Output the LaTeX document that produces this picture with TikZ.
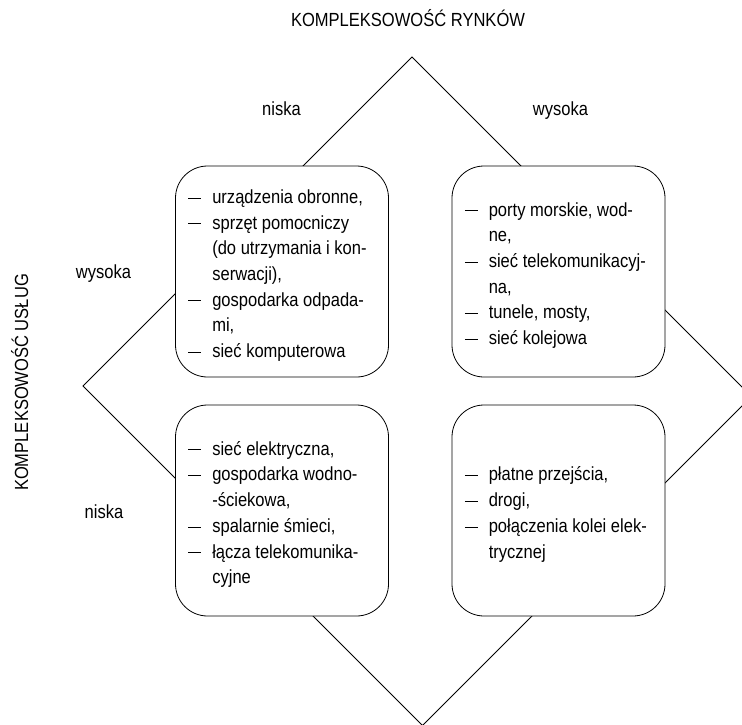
\documentclass[tikz,border=0pt]{standalone}
\usepackage{fontspec}
\setmainfont{Liberation Sans}[FakeStretch=0.87]
\newcommand{\qitem}{\makebox[24pt][l]{\rule[5pt]{13pt}{0.8pt}}}
\newcommand{\qind}{\hspace*{24pt}}
\begin{document}
\begin{tikzpicture}[x=1pt,y=-1pt,
  qbox/.style={draw,line width=0.8pt,rounded corners=32pt,fill=white,minimum width=213pt,minimum height=211pt,inner sep=0pt},
  qtext/.style={anchor=west,align=left,inner sep=0pt,font=\fontsize{19}{25.7}\selectfont,yshift=-4pt},
  lbl/.style={font=\fontsize{19}{23}\selectfont,inner sep=0pt,anchor=base},
  diamond edge/.style={line width=0.8pt}]
\clip (0,0) rectangle (742,725);
\coordinate (T) at (412,57);
\coordinate (R) at (751.5,396.5);
\coordinate (B) at (422.5,725.5);
\coordinate (L) at (83,386);
\draw[diamond edge] (T) -- (R) -- (B) -- (L) -- cycle;
\node[qbox] (tl) at (282,271.5) {};
\node[qbox] (tr) at (558.5,271.5) {};
\node[qbox] (bl) at (282,510.5) {};
\node[qbox] (br) at (558.5,510.5) {};
\node[qtext] (tltext) at ([xshift=13pt]tl.west) {\qitem urządzenia obronne,\\ \qitem sprzęt pomocniczy\\ \qind (do utrzymania i kon-\\ \qind serwacji),\\ \qitem gospodarka odpada-\\ \qind mi,\\ \qitem sieć komputerowa};
\node[qtext] (trtext) at ([xshift=13pt]tr.west) {\qitem porty morskie, wod-\\ \qind ne,\\ \qitem sieć telekomunikacyj-\\ \qind na,\\ \qitem tunele, mosty,\\ \qitem sieć kolejowa};
\node[qtext] (bltext) at ([xshift=13pt]bl.west) {\qitem sieć elektryczna,\\ \qitem gospodarka wodno-\\ \qind -ściekowa,\\ \qitem spalarnie śmieci,\\ \qitem łącza telekomunika-\\ \qind cyjne};
\node[qtext] (brtext) at ([xshift=13pt]br.west) {\qitem płatne przejścia,\\ \qitem drogi,\\ \qitem połączenia kolei elek-\\ \qind trycznej};
\node[lbl] (title) at (408,27) {KOMPLEKSOWOŚĆ RYNKÓW};
\node[lbl] (mlow) at (281.5,115) {niska};
\node[lbl] (mhigh) at (560.5,115) {wysoka};
\node[lbl] (shigh) at (103.5,278) {wysoka};
\node[lbl] (slow) at (104,518) {niska};
\node[lbl,rotate=90] (stitle) at (28,382.5) {KOMPLEKSOWOŚĆ USŁUG};
\end{tikzpicture}
\end{document}
